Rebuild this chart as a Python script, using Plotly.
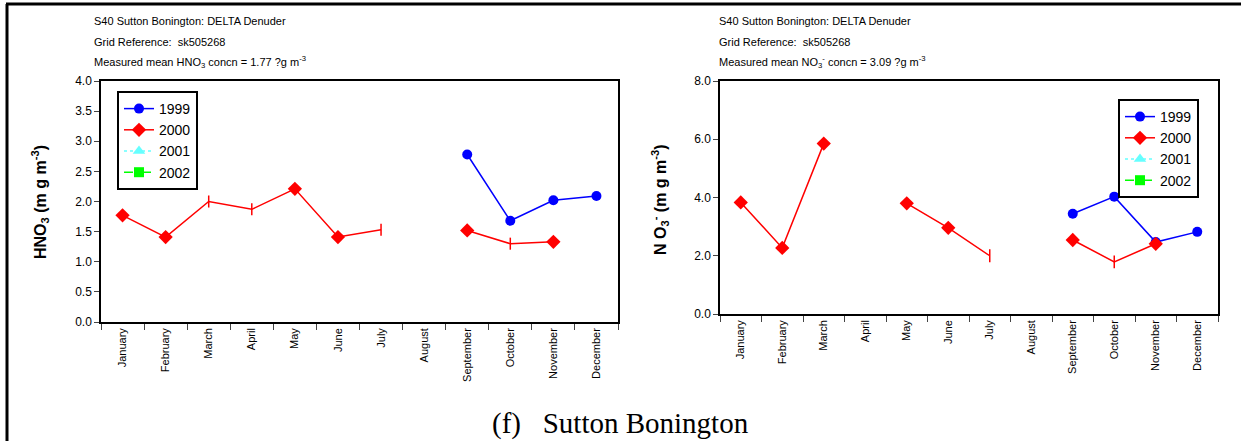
import plotly.graph_objects as go

W, H = 1241, 441

months = ["January", "February", "March", "April", "May", "June",
          "July", "August", "September", "October", "November", "December"]

# HNO3 (left panel)
hno3_1999 = [None, None, None, None, None, None, None, None, 2.78, 1.68, 2.02, 2.09]
hno3_2000 = [1.77, 1.41, 2.00, 1.87, 2.21, 1.41, 1.53, None, 1.52, 1.30, 1.33, None]
hno3_2000_err = [0, 0, 0.10, 0.10, 0, 0, 0.10, 0, 0, 0.10, 0, 0]
hno3_2000_mark = [1.77, 1.41, None, None, 2.21, 1.41, None, None, 1.52, None, 1.33, None]

# NO3- (right panel)
no3_1999 = [None, None, None, None, None, None, None, None, 3.44, 4.03, 2.47, 2.82]
no3_2000 = [3.83, 2.27, 5.85, None, 3.80, 2.96, 2.00, None, 2.54, 1.79, 2.41, None]
no3_2000_err = [0, 0, 0, 0, 0, 0, 0.22, 0, 0, 0.22, 0, 0]
no3_2000_mark = [3.83, 2.27, 5.85, None, 3.80, 2.96, None, None, 2.54, None, 2.41, None]


def px(x):
    return x / W


def py(y):
    return 1 - y / H


fig = go.Figure()


def add_series(xa, ya, legend, v99, v00, err, mark):
    fig.add_trace(go.Scatter(
        x=months, y=v99, name="1999", mode="lines+markers", xaxis=xa, yaxis=ya,
        line=dict(color="#0000ff", width=1.5),
        marker=dict(symbol="circle", size=10, color="#0000ff", opacity=1),
        legend=legend))
    fig.add_trace(go.Scatter(
        x=months, y=v00, name="2000", mode="lines", xaxis=xa, yaxis=ya,
        line=dict(color="#ff0000", width=1.5),
        error_y=dict(type="data", array=err, color="#ff0000", thickness=1.5, width=0),
        legend=legend, showlegend=False))
    fig.add_trace(go.Scatter(
        x=months, y=mark, name="2000", mode="markers", xaxis=xa, yaxis=ya,
        marker=dict(symbol="diamond", size=11, color="#ff0000", opacity=1),
        legend=legend, showlegend=False))
    # legend-only entries
    fig.add_trace(go.Scatter(
        x=[None], y=[None], name="2000", mode="lines+markers", xaxis=xa, yaxis=ya,
        line=dict(color="#ff0000", width=1.5),
        marker=dict(symbol="diamond", size=11, color="#ff0000"), legend=legend))
    fig.add_trace(go.Scatter(
        x=[None], y=[None], name="2001", mode="lines+markers", xaxis=xa, yaxis=ya,
        line=dict(color="#66ffff", width=1.5, dash="dot"),
        marker=dict(symbol="triangle-up", size=11, color="#66ffff"), legend=legend))
    fig.add_trace(go.Scatter(
        x=[None], y=[None], name="2002", mode="lines+markers", xaxis=xa, yaxis=ya,
        line=dict(color="#00ff00", width=1.5, dash="dash"),
        marker=dict(symbol="square", size=10, color="#00ff00"), legend=legend))


add_series("x", "y", "legend", hno3_1999, hno3_2000, hno3_2000_err, hno3_2000_mark)
add_series("x2", "y2", "legend2", no3_1999, no3_2000, no3_2000_err, no3_2000_mark)

xcommon = dict(type="category", categoryorder="array", categoryarray=months,
               range=[-0.5, 11.5], tickson="boundaries", ticks="outside", ticklen=6,
               tickangle=-90, tickfont=dict(family="Arial", size=11, color="black"),
               showline=True, linecolor="black", linewidth=1.5, mirror=True,
               showgrid=False, zeroline=False, automargin=False)
ycommon = dict(ticks="outside", ticklen=5, showline=True, linecolor="black", linewidth=1.5,
               mirror=True, showgrid=False, zeroline=False, automargin=False,
               tickfont=dict(family="Arial", size=12, color="black"))

fig.update_layout(
    width=W, height=H, autosize=False, margin=dict(l=0, r=0, t=0, b=0, pad=0),
    paper_bgcolor="white", plot_bgcolor="white",
    xaxis=dict(domain=[px(101), px(618)], anchor="y", **xcommon),
    yaxis=dict(domain=[py(322), py(81)], anchor="x", range=[0, 4], dtick=0.5,
               tickformat=".1f", **ycommon),
    xaxis2=dict(domain=[px(720), px(1218)], anchor="y2", **xcommon),
    yaxis2=dict(domain=[py(314), py(81)], anchor="x2", range=[0, 8], dtick=2,
                tickformat=".1f", **ycommon),
    legend=dict(x=px(117), y=py(91), xanchor="left", yanchor="top",
                bgcolor="white", bordercolor="black", borderwidth=2,
                font=dict(family="Arial", size=14, color="black"), tracegroupgap=0),
    legend2=dict(x=px(1118), y=py(99), xanchor="left", yanchor="top",
                 bgcolor="white", bordercolor="black", borderwidth=2,
                 font=dict(family="Arial", size=14, color="black"), tracegroupgap=0),
    showlegend=True,
)

ann = []
hdr = dict(family="Arial", size=11, color="black")
for x0, mean_txt in [(92, "Measured mean HNO<sub>3</sub> concn = 1.77 ?g m<sup>-3</sup>"),
                     (717, "Measured mean NO<sub>3</sub><sup>-</sup> concn = 3.09 ?g m<sup>-3</sup>")]:
    for yy, t in [(21, "S40 Sutton Bonington: DELTA Denuder"),
                  (42, "Grid Reference:  sk505268"),
                  (62, mean_txt)]:
        ann.append(dict(text=t, x=px(x0), y=py(yy), xref="paper", yref="paper",
                        xanchor="left", yanchor="middle", showarrow=False, font=hdr))

ann.append(dict(text="<b>HNO<sub>3</sub> (m g m<sup>-3</sup>)</b>", x=px(40), y=py(202),
                xref="paper", yref="paper", textangle=-90, showarrow=False,
                xanchor="center", yanchor="middle",
                font=dict(family="Arial", size=16, color="black")))
ann.append(dict(text="<b>N O<sub>3</sub><sup>-</sup> (m g m<sup>-3</sup>)</b>", x=px(660), y=py(200),
                xref="paper", yref="paper", textangle=-90, showarrow=False,
                xanchor="center", yanchor="middle",
                font=dict(family="Arial", size=16, color="black")))
ann.append(dict(text="(f)   Sutton Bonington", x=0.5, y=py(423), xref="paper", yref="paper",
                xanchor="center", yanchor="middle", showarrow=False,
                font=dict(family="Liberation Serif", size=29, color="black")))
fig.update_layout(annotations=ann)

# page frame
fig.add_shape(type="line", xref="paper", yref="paper", x0=px(6), x1=1, y0=py(4), y1=py(4),
              line=dict(color="black", width=3))
fig.add_shape(type="line", xref="paper", yref="paper", x0=px(7), x1=px(7), y0=0, y1=py(4),
              line=dict(color="black", width=3))

fig.write_html("out.html", config={"displayModeBar": False, "responsive": False},
               post_script="document.body.style.margin='0';"
                           "document.documentElement.style.overflow='hidden';")
